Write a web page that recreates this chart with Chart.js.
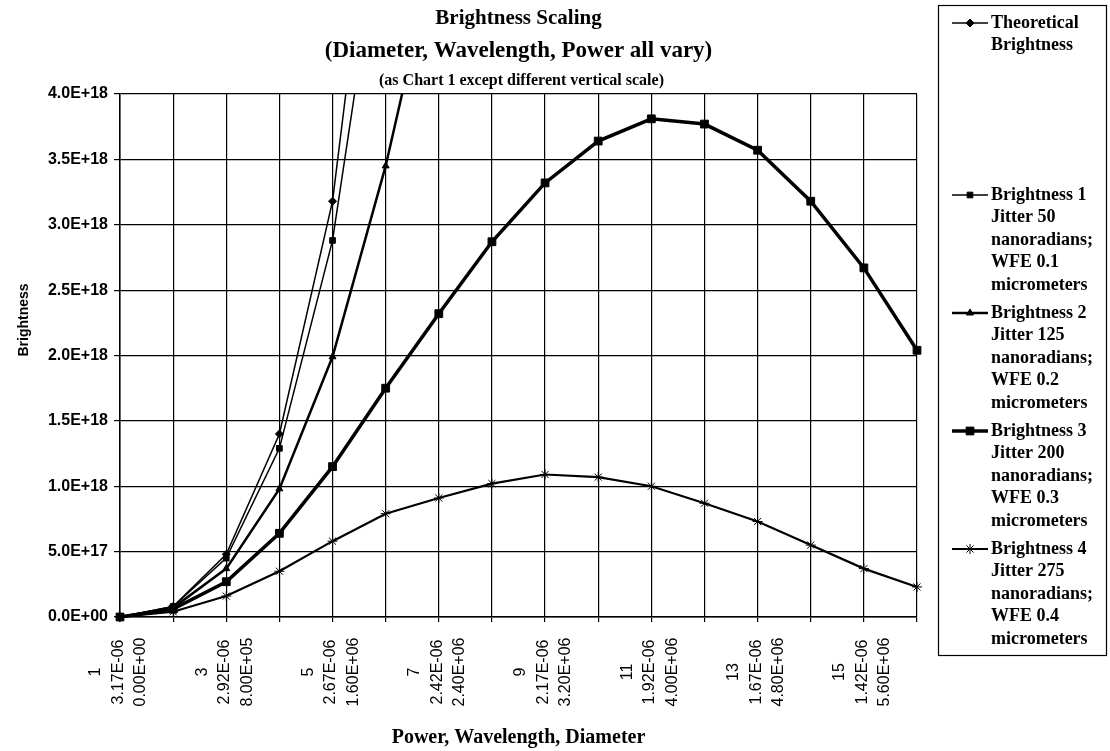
<!DOCTYPE html>
<html>
<head>
<meta charset="utf-8">
<script src="https://cdn.jsdelivr.net/npm/chart.js@4/dist/chart.umd.min.js"></script>
<style>
html,body{margin:0;padding:0;background:#fff;}
#wrap{position:relative;width:1110px;height:751px;}
canvas{display:block;}
</style>
</head>
<body>
<div id="wrap"><canvas id="c" width="1110" height="751"></canvas></div>
<script>
// ---- data ----
const categories = ['1','2','3','4','5','6','7','8','9','10','11','12','13','14','15','16'];
const powerLabels      = ['1','','3','','5','','7','','9','','11','','13','','15',''];
const wavelengthLabels = ['3.17E-06','','2.92E-06','','2.67E-06','','2.42E-06','','2.17E-06','','1.92E-06','','1.67E-06','','1.42E-06',''];
const diameterLabels   = ['0.00E+00','','8.00E+05','','1.60E+06','','2.40E+06','','3.20E+06','','4.00E+06','','4.80E+06','','5.60E+06',''];

const theoretical = [0, 0.08e18, 0.48e18, 1.40e18, 3.18e18, 6.47e18, null, null, null, null, null, null, null, null, null, null];
const brightness1 = [0, 0.08e18, 0.45e18, 1.29e18, 2.88e18, 5.58e18, null, null, null, null, null, null, null, null, null, null];
const brightness2 = [0, 0.07e18, 0.37e18, 0.98e18, 1.99e18, 3.45e18, 5.23e18, null, null, null, null, null, null, null, null, null];
const brightness3 = [0, 0.06e18, 0.27e18, 0.64e18, 1.15e18, 1.75e18, 2.32e18, 2.87e18, 3.32e18, 3.64e18, 3.81e18, 3.77e18, 3.57e18, 3.18e18, 2.67e18, 2.04e18];
const brightness4 = [0, 0.04e18, 0.16e18, 0.35e18, 0.58e18, 0.79e18, 0.91e18, 1.02e18, 1.09e18, 1.07e18, 1.00e18, 0.87e18, 0.73e18, 0.55e18, 0.37e18, 0.23e18];

const yTickLabels = ['0.0E+00','5.0E+17','1.0E+18','1.5E+18','2.0E+18','2.5E+18','3.0E+18','3.5E+18','4.0E+18'];

const legendTheo = ['Theoretical','Brightness'];
const legendB1 = ['Brightness 1','Jitter 50','nanoradians;','WFE 0.1','micrometers'];
const legendB2 = ['Brightness 2','Jitter 125','nanoradians;','WFE 0.2','micrometers'];
const legendB3 = ['Brightness 3','Jitter 200','nanoradians;','WFE 0.3','micrometers'];
const legendB4 = ['Brightness 4','Jitter 275','nanoradians;','WFE 0.4','micrometers'];

const titleLines = ['Brightness Scaling','(Diameter, Wavelength, Power all vary)','(as Chart 1 except different vertical scale)'];
const xTitle = 'Power, Wavelength, Diameter';
const yTitle = 'Brightness';

// ---- styles ----
const SERIF = '"Liberation Serif","Times New Roman",serif';
const SANS = '"Liberation Sans",Arial,sans-serif';
const clipBox = {left: 10, top: 0, right: 10, bottom: 10};

function mkDs(lines, data, style, radius, width) {
  return {
    label: lines.join(' '), legendLines: lines, data: data,
    borderColor: '#000', backgroundColor: '#000', borderWidth: width,
    pointStyle: style, pointRadius: radius, pointBorderWidth: 1,
    pointBackgroundColor: '#000', pointBorderColor: '#000',
    tension: 0, spanGaps: false, clip: clipBox, fill: false
  };
}

const datasets = [
  mkDs(legendTheo, theoretical, 'rectRot', 4, 1.5),
  mkDs(legendB1, brightness1, 'rect', 4, 1.5),
  mkDs(legendB2, brightness2, 'triangle', 4, 2.5),
  mkDs(legendB3, brightness3, 'rect', 5.5, 3.5),
  mkDs(legendB4, brightness4, 'star', 5, 2.2)
];

const legendRowY = [23, 195, 313, 431, 549];
const legendLineH = 22.5;

const decorPlugin = {
  id: 'decor',
  afterDraw(chart) {
    const ctx = chart.ctx;
    const area = chart.chartArea;
    const xs = chart.scales.x;
    ctx.save();
    ctx.fillStyle = '#000';
    ctx.strokeStyle = '#000';
    // titles
    const cx = (area.left + area.right) / 2;
    ctx.textAlign = 'center';
    ctx.textBaseline = 'middle';
    ctx.font = 'bold 21px ' + SERIF;
    ctx.fillText(titleLines[0], cx, 19);
    ctx.font = 'bold 23px ' + SERIF;
    ctx.fillText(titleLines[1], cx, 51);
    ctx.font = 'bold 16px ' + SERIF;
    ctx.fillText(titleLines[2], cx + 3, 81);

    // y-axis title
    ctx.save();
    ctx.translate(24, 320);
    ctx.rotate(-Math.PI / 2);
    ctx.font = 'bold 14px ' + SANS;
    ctx.fillText(yTitle, 0, 0);
    ctx.restore();

    // x tick labels (three stacked, rotated lines)
    ctx.font = '16px ' + SANS;
    const offs = [-24, -1.5, 21];
    for (let i = 0; i < categories.length; i++) {
      if (!powerLabels[i]) continue;
      const x = xs.getPixelForValue(i);
      const lines = [powerLabels[i], wavelengthLabels[i], diameterLabels[i]];
      lines.forEach((t, k) => {
        ctx.save();
        ctx.translate(x + offs[k], 672);
        ctx.rotate(-Math.PI / 2);
        ctx.textAlign = 'center';
        ctx.textBaseline = 'middle';
        ctx.fillText(t, 0, 0);
        ctx.restore();
      });
    }

    // legend
    ctx.lineWidth = 1.2;
    ctx.strokeRect(938.5, 5.5, 168, 650);
    ctx.font = 'bold 18px ' + SERIF;
    ctx.textAlign = 'left';
    ctx.textBaseline = 'middle';
    chart.data.datasets.forEach((ds, i) => {
      const y0 = legendRowY[i];
      ctx.lineWidth = ds.borderWidth;
      ctx.beginPath();
      ctx.moveTo(952, y0);
      ctx.lineTo(988, y0);
      ctx.stroke();
      ctx.lineWidth = 1;
      Chart.helpers.drawPoint(ctx, {pointStyle: ds.pointStyle, radius: ds.pointRadius, rotation: 0, borderWidth: 1}, 970, y0);
      ds.legendLines.forEach((t, k) => ctx.fillText(t, 991, y0 + k * legendLineH));
    });
    ctx.restore();
  }
};

new Chart(document.getElementById('c'), {
  type: 'line',
  data: { labels: categories, datasets: datasets },
  plugins: [decorPlugin],
  options: {
    responsive: false,
    animation: false,
    devicePixelRatio: 1,
    layout: { padding: { left: 0, right: 193, top: 94, bottom: 0 } },
    plugins: { legend: { display: false }, title: { display: false }, tooltip: { enabled: false } },
    scales: {
      x: {
        type: 'category',
        offset: false,
        afterFit: s => { s.height = 134; },
        grid: { color: '#000', lineWidth: 1.2, drawTicks: true, tickLength: 5, tickColor: '#000' },
        border: { display: true, color: '#000', width: 1.5 },
        ticks: { display: false, autoSkip: false },
        title: { display: true, text: xTitle, color: '#000', font: { family: SERIF, size: 20, weight: 'bold' }, padding: { top: 0, bottom: 1 } }
      },
      y: {
        min: 0, max: 4e18,
        afterFit: s => { s.width = 120; },
        afterBuildTicks: s => { s.ticks = yTickLabels.map((_, i) => ({ value: i * 0.5e18 })); },
        grid: { color: '#000', lineWidth: 1.2, drawTicks: true, tickLength: 6, tickColor: '#000' },
        border: { display: true, color: '#000', width: 1.5 },
        ticks: {
          color: '#000', padding: 6,
          font: { family: SANS, size: 16, weight: 'bold' },
          callback: (v, i) => yTickLabels[i]
        },
        title: { display: false }
      }
    }
  }
});
</script>
</body>
</html>
